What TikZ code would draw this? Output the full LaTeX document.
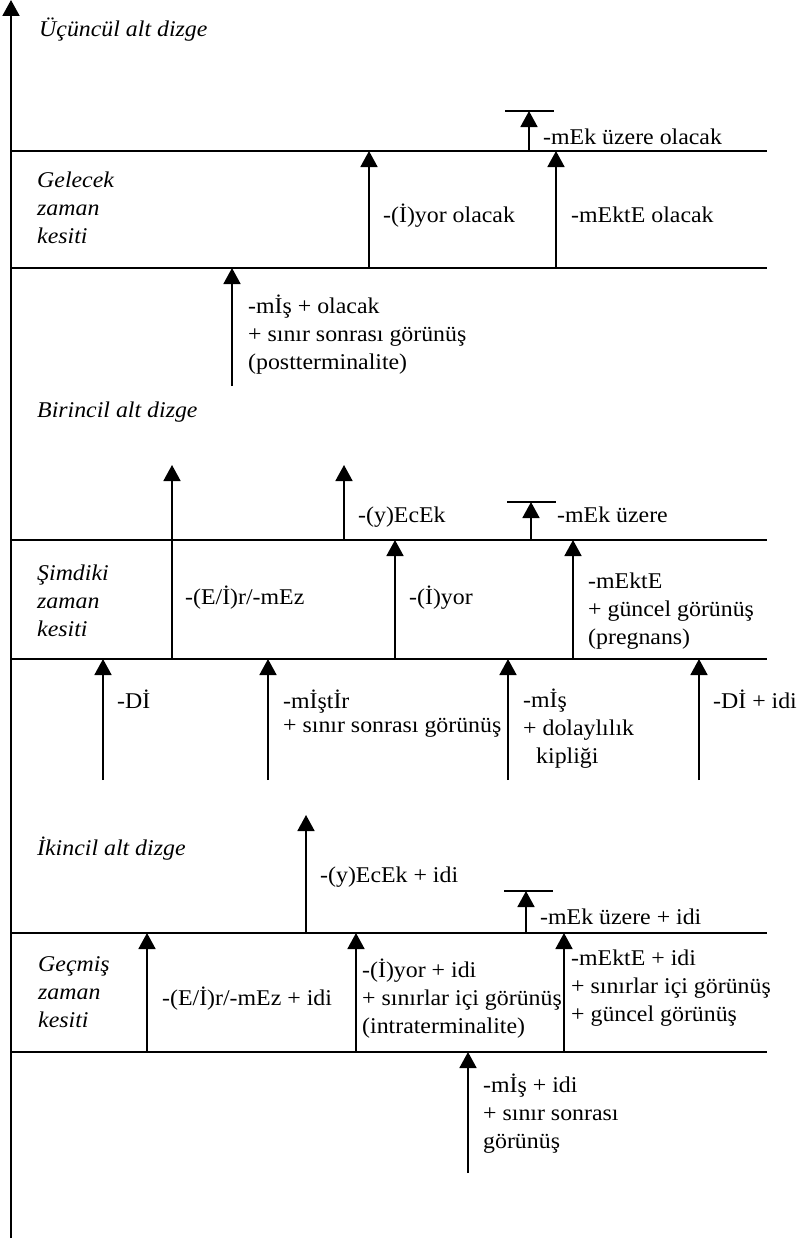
\documentclass[tikz,border=0pt]{standalone}
\usepackage{fontspec}
\setmainfont{Liberation Serif}[FakeStretch=1.06]
\usetikzlibrary{arrows.meta}
\newcommand{\zlines}[1]{\begin{tabular}[t]{@{}l@{}}#1\end{tabular}}
\begin{document}
\begin{tikzpicture}[x=1pt,y=-1pt,
  every node/.style={inner sep=0pt,anchor=base west,font=\fontsize{22.5}{28}\selectfont},
  sec/.style={font=\fontsize{22.5}{28}\selectfont\itshape},
  arr/.style={line width=1.7pt,-{Triangle[width=17pt,length=16pt]}},
  lvl/.style={line width=2pt},
  bar/.style={line width=1.7pt}]
\useasboundingbox (0,0) rectangle (804,1239);
% time axis
\coordinate (ax-s) at (11,1238);
\coordinate (ax-e) at (11,0);
\draw[arr,line width=2pt] (ax-s) -- (ax-e);
% section borders
\foreach \n/\y in {1/151,2/268,3/540,4/659,5/933,6/1052} {
  \coordinate (L\n) at (11,\y);
  \coordinate (R\n) at (767,\y);
  \draw[lvl] (L\n) -- (R\n);
}
% arrows: name/x/from/to
\foreach \n/\x/\ya/\yb in {a1/232/386/268, a2/369/268/151, a3/556/268/151, u1/529/151/111,
    b1/172/659/465, b2/344/540/465, b3/395/659/540, b4/573/659/540, u2/531/540/502,
    c1/103/780/659, c2/268/780/659, c3/508/780/659, c4/699/780/659,
    d1/306/933/815, u3/526/933/891, d2/147/1052/933, d3/356/1052/933, d4/564/1052/933,
    d5/468/1173/1052} {
  \coordinate (\n-s) at (\x,\ya);
  \coordinate (\n-e) at (\x,\yb);
  \draw[arr] (\n-s) -- (\n-e);
}
% limit bars
\foreach \n/\xa/\xb/\y in {1/505/554/111, 2/507/556/502, 3/504/553/891} {
  \coordinate (bar\n-l) at (\xa,\y);
  \coordinate (bar\n-r) at (\xb,\y);
  \draw[bar] (bar\n-l) -- (bar\n-r);
}
% subsystem and section titles
\node[sec] (sys3) at (39,37) {Üçüncül alt dizge};
\node[sec] (sys1) at (37,417) {Birincil alt dizge};
\node[sec] (sys2) at (37,855) {İkincil alt dizge};
\node[sec] (fut) at (37,187) {\zlines{Gelecek\\zaman\\kesiti}};
\node[sec] (pres) at (37,580) {\zlines{Şimdiki\\zaman\\kesiti}};
\node[sec] (past) at (38,971) {\zlines{Geçmiş\\zaman\\kesiti}};
% future
\node (mis-ol) at (248,313) {\zlines{-mİş + olacak\\+ sınır sonrası görünüş\\(postterminalite)}};
\node (yor-ol) at (383,222) {-(İ)yor olacak};
\node (mekte-ol) at (571,222) {-mEktE olacak};
\node (uzere-ol) at (543,144) {-mEk üzere olacak};
% present
\node (ir) at (185,604) {-(E/İ)r/-mEz};
\node (ecek) at (358,522) {-(y)EcEk};
\node (yor) at (409,604) {-(İ)yor};
\node (uzere) at (557,522) {-mEk üzere};
\node (mekte) at (588,588) {\zlines{-mEktE\\+ güncel görünüş\\(pregnans)}};
\node (di) at (117,708) {-Dİ};
\node (mistir) at (283,708) {\zlines{-mİştİr\\[-4pt]+ sınır sonrası görünüş}};
\node (mis) at (523,707) {\zlines{-mİş\\+ dolaylılık\\\hspace*{13pt}kipliği}};
\node (di-idi) at (713,708) {-Dİ + idi};
% past
\node (ecek-idi) at (320,882) {-(y)EcEk + idi};
\node (uzere-idi) at (540,924) {-mEk üzere + idi};
\node (ir-idi) at (162,1005) {-(E/İ)r/-mEz + idi};
\node (yor-idi) at (362,977) {\zlines{-(İ)yor + idi\\+ sınırlar içi görünüş\\(intraterminalite)}};
\node (mekte-idi) at (571,965) {\zlines{-mEktE + idi\\+ sınırlar içi görünüş\\+ güncel görünüş}};
\node (mis-idi) at (483,1092) {\zlines{-mİş + idi\\+ sınır sonrası\\görünüş}};
\end{tikzpicture}
\end{document}
